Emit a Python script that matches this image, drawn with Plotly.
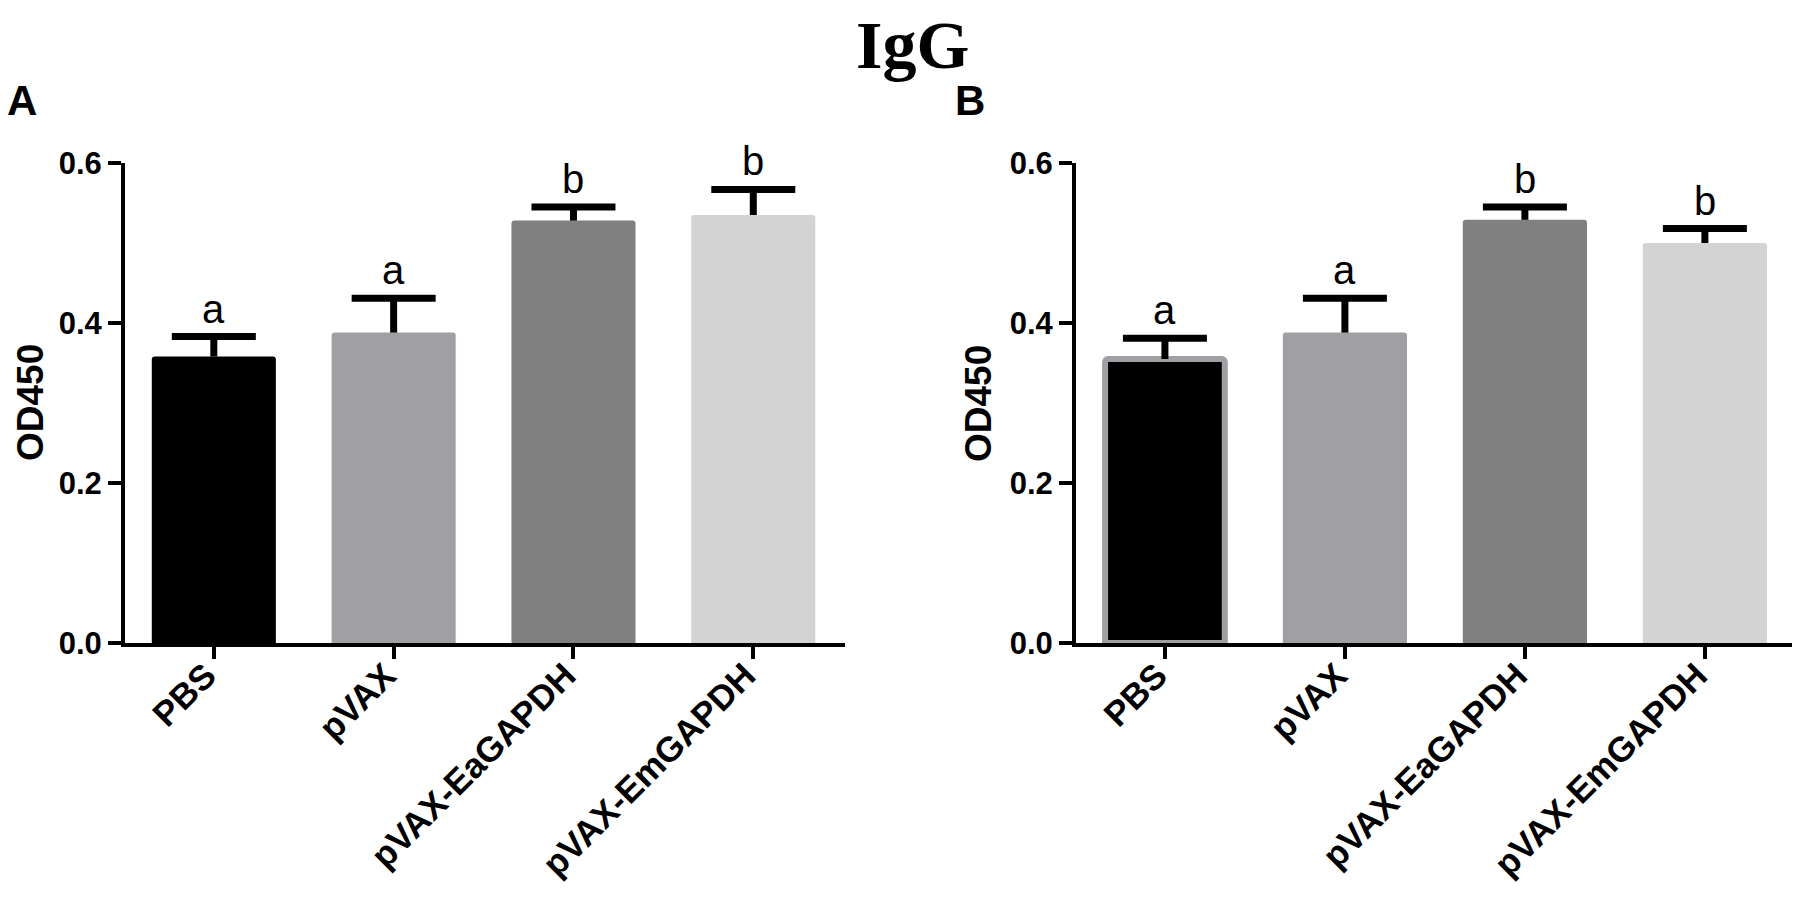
import plotly.graph_objects as go
from plotly.subplots import make_subplots

# groups and readings (OD450, mean and upper SD) for the two panels
categories = ['PBS', 'pVAX', 'pVAX-EaGAPDH', 'pVAX-EmGAPDH']
bar_colors = ['#000000', '#a0a0a4', '#808080', '#d3d3d3']

a_mean = [0.358, 0.388, 0.528, 0.535]
a_sd = [0.025, 0.043, 0.017, 0.032]
a_letters = ['a', 'a', 'b', 'b']

b_mean = [0.355, 0.388, 0.529, 0.500]
b_sd = [0.026, 0.043, 0.016, 0.018]
b_letters = ['a', 'a', 'b', 'b']

SANS = 'Arial, Liberation Sans, sans-serif'
SERIF = 'Times New Roman, Liberation Serif, serif'

# the page body has an 8px margin, so the figure is a bit smaller and
# every pixel position below is given in page pixels and shifted by OFF
OFF = 8
W, H = 1784, 885


def px_x(x):
    return (x - OFF) / W


def px_y(y):
    return 1 - (y - OFF) / H


fig = make_subplots(rows=1, cols=2)


def add_panel(means, sds, col, outline_colors=None, outline_widths=None, widths=0.69):
    line = dict(width=0)
    if outline_colors:
        line = dict(color=outline_colors, width=outline_widths)
    fig.add_trace(go.Bar(
        x=categories, y=means, width=widths,
        marker=dict(color=bar_colors, line=line, cornerradius=3),
        # stem only, the cap is drawn as a marker so there is none at the bar top
        error_y=dict(type='data', symmetric=False, array=sds,
                     arrayminus=[0] * len(sds), width=0, thickness=7,
                     color='black'),
        showlegend=False
    ), row=1, col=col)
    tops = [m + s for m, s in zip(means, sds)]
    fig.add_trace(go.Scatter(
        x=categories, y=tops, mode='markers',
        marker=dict(symbol='line-ew', size=60, line=dict(width=7, color='black')),
        showlegend=False, hoverinfo='skip'
    ), row=1, col=col)


add_panel(a_mean, a_sd, 1)
# panel B: the PBS bar has a grey outline in the original
add_panel(b_mean, b_sd, 2,
          outline_colors=['#a0a0a4', '#a0a0a4', '#808080', '#d3d3d3'],
          outline_widths=[6, 0, 0, 0],
          widths=[0.665, 0.69, 0.69, 0.69])

# significance letters above the error caps
for xref, yref, means, sds, letters in [('x', 'y', a_mean, a_sd, a_letters),
                                        ('x2', 'y2', b_mean, b_sd, b_letters)]:
    for cat, m, s, t in zip(categories, means, sds, letters):
        fig.add_annotation(x=cat, y=m + s, xref=xref, yref=yref, text=t,
                           showarrow=False, yanchor='bottom', yshift=4,
                           font=dict(family=SANS, size=40, color='black'))

# panel letters, y titles and main title
for label, x in [('A', 5), ('B', 953)]:
    fig.add_annotation(x=px_x(x), y=px_y(75), xref='paper', yref='paper',
                       text=f'<b>{label}</b>', showarrow=False,
                       xanchor='left', yanchor='top',
                       font=dict(family=SANS, size=42, color='black'))
for x in [30, 978]:
    fig.add_annotation(x=px_x(x), y=px_y(403), xref='paper', yref='paper',
                       text='<b>OD450</b>', textangle=-90, showarrow=False,
                       xanchor='center', yanchor='middle',
                       font=dict(family=SANS, size=37, color='black'))
fig.add_annotation(x=px_x(912), y=1, xref='paper', yref='paper', yshift=3,
                   text='<b>IgG</b>', showarrow=False, xanchor='center', yanchor='top',
                   font=dict(family=SERIF, size=68, color='black'))

y_dom = [px_y(643), px_y(163)]
common_x = dict(
    type='category', showline=True, linewidth=4,
    linecolor='black', ticks='outside', ticklen=12, tickwidth=4,
    tickcolor='black', tickangle=-45, showgrid=False, zeroline=False,
    automargin=False, ticklabelstandoff=-18, ticklabelshift=-8,
    tickfont=dict(family=SANS, size=35, color='black', weight='bold'),
)
common_y = dict(
    range=[0, 0.6], tickvals=[0, 0.2, 0.4, 0.6], ticktext=['0.0', '0.2', '0.4', '0.6'],
    showline=True, linewidth=4, linecolor='black', ticks='outside',
    ticklen=13, tickwidth=4, tickcolor='black', showgrid=False,
    zeroline=False, automargin=False,
    tickfont=dict(family=SANS, size=31, color='black', weight='bold'),
)

fig.update_xaxes(common_x)
fig.update_yaxes(common_y)
fig.update_layout(
    xaxis=dict(domain=[px_x(125), px_x(845)], range=[-0.494, 3.51]),
    xaxis2=dict(domain=[px_x(1076), 1.0], range=[-0.494, 3.484]),
    yaxis=dict(domain=y_dom),
    yaxis2=dict(domain=y_dom),
    width=W, height=H,
    margin=dict(l=0, r=0, t=0, b=0),
    plot_bgcolor='white', paper_bgcolor='white',
    bargap=0.3,
)

fig.write_html('out.html')
